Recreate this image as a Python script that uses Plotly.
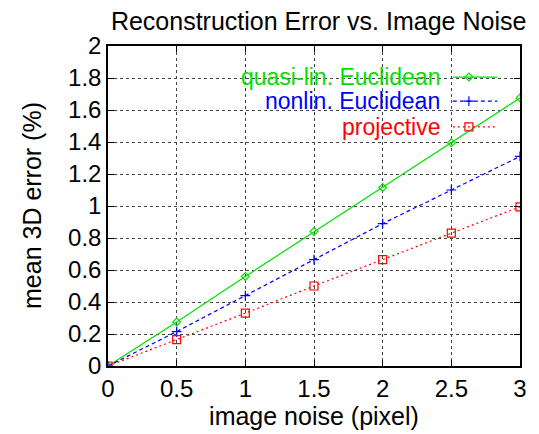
import plotly.graph_objects as go

noise = [0, 0.5, 1, 1.5, 2, 2.5, 3]
quasi_lin = [0.0, 0.275, 0.56, 0.84, 1.115, 1.395, 1.675]
nonlin = [0.0, 0.215, 0.44, 0.665, 0.89, 1.10, 1.31]
projective = [0.0, 0.165, 0.33, 0.50, 0.665, 0.83, 0.995]

names = ["quasi-lin. Euclidean", "nonlin. Euclidean", "projective"]
colors = ["#00e000", "#0000ff", "#ff0000"]
dashes = ["solid", "4px,3px", "2px,3px"]
symbols = ["diamond-open", "cross-thin", "square-open"]
msizes = [6, 7, 8]
series = [quasi_lin, nonlin, projective]

FONT = "Liberation Sans, Arial, sans-serif"

fig = go.Figure()
for s, n, c, d, sym, ms in zip(series, names, colors, dashes, symbols, msizes):
    fig.add_trace(go.Scatter(x=noise, y=s, mode="lines+markers", name=n,
                             line=dict(color=c, width=1.2, dash=d),
                             marker=dict(symbol=sym, size=ms, color=c,
                                         line=dict(color=c, width=1.2)),
                             showlegend=False))

# custom gnuplot-style legend (text right, sample to the right)
leg_y = [0.903, 0.828, 0.747]
for n, c, d, sym, ms, ly in zip(names, colors, dashes, symbols, msizes, leg_y):
    fig.add_trace(go.Scatter(x=[0.837, 0.945], y=[ly, ly], mode="lines",
                             line=dict(color=c, width=1.2, dash=d),
                             xaxis="x2", yaxis="y2", showlegend=False, hoverinfo="skip"))
    fig.add_trace(go.Scatter(x=[0.876], y=[ly], mode="markers",
                             marker=dict(symbol=sym, size=ms, color=c, line=dict(color=c, width=1.2)),
                             xaxis="x2", yaxis="y2", showlegend=False, hoverinfo="skip"))
    fig.add_annotation(x=0.808, y=ly, xref="x2", yref="y2", text=n, showarrow=False,
                       xanchor="right", yanchor="middle", borderpad=0,
                       font=dict(family=FONT, size=23, color=c))

# y-axis title placed as rotated text
fig.add_annotation(x=0, y=0.5, xref="paper", yref="paper", text="mean 3D error (%)",
                   showarrow=False, textangle=-90, xanchor="center", yanchor="middle",
                   xshift=-76, font=dict(family=FONT, size=25, color="black"))

axis_common = dict(showline=True, linecolor="black", linewidth=1.5, mirror="ticks",
                   ticks="inside", ticklen=6, tickcolor="black", tickwidth=1,
                   showgrid=True, gridcolor="#444444", griddash="dot", gridwidth=1,
                   zeroline=False, tickfont=dict(family=FONT, size=24, color="black"))

fig.update_layout(
    width=531, height=426,
    margin=dict(l=100, r=13, t=38, b=68),
    paper_bgcolor="white", plot_bgcolor="white",
    title=dict(text="Reconstruction Error vs. Image Noise", x=0.585, xanchor="center",
               y=0.97, yanchor="middle",
               font=dict(family=FONT, size=25, color="black")),
    xaxis=dict(range=[0, 3], tickvals=[0, 0.5, 1, 1.5, 2, 2.5, 3],
               ticktext=["0", "0.5", "1", "1.5", "2", "2.5", "3"],
               title=dict(text="image noise (pixel)", standoff=0,
                          font=dict(family=FONT, size=25, color="black")),
               **axis_common),
    yaxis=dict(range=[0, 2], tickvals=[0, 0.2, 0.4, 0.6, 0.8, 1, 1.2, 1.4, 1.6, 1.8, 2],
               ticktext=["0", "0.2", "0.4", "0.6", "0.8", "1", "1.2", "1.4", "1.6", "1.8", "2"],
               **axis_common),
    xaxis2=dict(overlaying="x", range=[0, 1], visible=False, fixedrange=True),
    yaxis2=dict(overlaying="y", range=[0, 1], visible=False, fixedrange=True),
)

fig.write_html("out.html")
